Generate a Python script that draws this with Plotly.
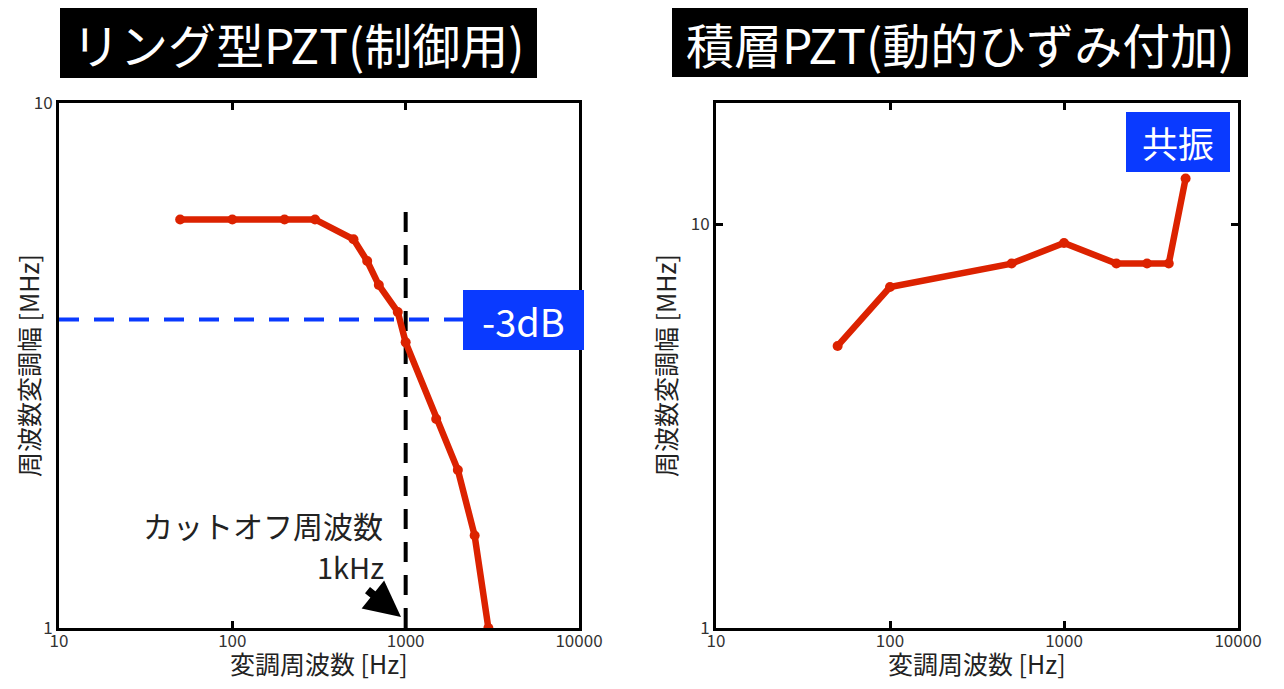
import plotly.graph_objects as go

# ---- data ----
left_freq = [50, 100, 200, 300, 500, 600, 700, 900, 1000, 1500, 2000, 2500, 3000]
left_amp = [6.0, 6.0, 6.0, 6.0, 5.5, 5.0, 4.5, 4.0, 3.5, 2.5, 2.0, 1.5, 1.0]
right_freq = [50, 100, 500, 1000, 2000, 3000, 4000, 5000]
right_amp = [5.0, 7.0, 8.0, 9.0, 8.0, 8.0, 8.0, 13.0]
cutoff_freq = [1000, 1000]
cutoff_span = [1.0, 6.5]
db3_freq = [10, 10000]
db3_level = [3.87, 3.87]
x_ticks = [10, 100, 1000, 10000]
x_ticklabels = ["10", "100", "1000", "10000"]
y_ticks = [1, 10]
y_ticklabels = ["1", "10"]

titles = ["リング型PZT(制御用)", "積層PZT(動的ひずみ付加)"]
xtitle = "変調周波数 [Hz]"
ytitle = "周波数変調幅 [MHz]"

# page has an 8px body margin; figure is sized to fit inside the viewport
OFF = 8
W, H = 1284 - 2 * OFF, 689 - 2 * OFF
def px(x):
    return (x - OFF) / W
def py(y):
    return 1 - (y - OFF) / H

RED = "#dc2200"
BLUE = "#0a3aff"
FONT = "Noto Sans CJK JP"

fig = go.Figure()

fig.add_trace(go.Scatter(x=cutoff_freq, y=cutoff_span, mode="lines",
                         line=dict(color="black", width=4, dash="20px,13px"),
                         xaxis="x", yaxis="y", showlegend=False, hoverinfo="skip"))
fig.add_trace(go.Scatter(x=db3_freq, y=db3_level, mode="lines",
                         line=dict(color=BLUE, width=4, dash="20px,15px"),
                         xaxis="x", yaxis="y", showlegend=False, hoverinfo="skip"))
fig.add_trace(go.Scatter(x=left_freq, y=left_amp, mode="lines+markers",
                         line=dict(color=RED, width=6.5),
                         marker=dict(color=RED, size=10),
                         xaxis="x", yaxis="y", showlegend=False))
fig.add_trace(go.Scatter(x=right_freq, y=right_amp, mode="lines+markers",
                         line=dict(color=RED, width=6.5),
                         marker=dict(color=RED, size=10),
                         xaxis="x2", yaxis="y2", showlegend=False))

axis_common = dict(type="log", showline=True, linewidth=3, linecolor="black",
                   mirror="ticks", ticks="inside", ticklen=7, tickwidth=3,
                   tickcolor="black", showgrid=False, zeroline=False,
                   automargin=False,
                   tickfont=dict(family=FONT, size=17, color="#333333"))

fig.update_layout(
    width=W, height=H,
    margin=dict(l=0, r=0, t=0, b=0, autoexpand=False),
    paper_bgcolor="white", plot_bgcolor="white",
    font=dict(family=FONT),
    xaxis=dict(domain=[px(59), px(579)], range=[1, 4], tickvals=x_ticks,
               ticktext=x_ticklabels, anchor="y", ticklabelstandoff=-4,
               **axis_common),
    yaxis=dict(domain=[py(628), py(103)], range=[0, 1], tickvals=y_ticks,
               ticktext=y_ticklabels, anchor="x", **axis_common),
    xaxis2=dict(domain=[px(716), px(1238)], range=[1, 4], tickvals=x_ticks,
                ticktext=x_ticklabels, anchor="y2", ticklabelstandoff=-4,
                **axis_common),
    yaxis2=dict(domain=[py(628), py(103)], range=[0, 1.30103], tickvals=y_ticks,
                ticktext=y_ticklabels, anchor="x2", **axis_common),
)

shapes = [
    dict(type="rect", xref="paper", yref="paper", x0=px(60), x1=px(537),
         y0=py(78), y1=py(8), fillcolor="black", line=dict(width=0), layer="above"),
    dict(type="rect", xref="paper", yref="paper", x0=px(672), x1=px(1248),
         y0=py(77), y1=py(8), fillcolor="black", line=dict(width=0), layer="above"),
    dict(type="rect", xref="paper", yref="paper", x0=px(463), x1=px(584),
         y0=py(350), y1=py(290), fillcolor=BLUE, line=dict(width=0), layer="above"),
    dict(type="rect", xref="paper", yref="paper", x0=px(1126), x1=px(1230),
         y0=py(172), y1=py(112), fillcolor=BLUE, line=dict(width=0), layer="above"),
]
fig.update_layout(shapes=shapes)

ann = []
ann.append(dict(text=titles[0], x=px(298), y=py(43), xref="paper", yref="paper",
                showarrow=False, font=dict(family=FONT, size=48, color="white"),
                xanchor="center", yanchor="middle"))
ann.append(dict(text=titles[1], x=px(960), y=py(43), xref="paper", yref="paper",
                showarrow=False, font=dict(family=FONT, size=48, color="white"),
                xanchor="center", yanchor="middle"))
ann.append(dict(text="-3dB", x=px(523), y=py(320), xref="paper", yref="paper",
                showarrow=False, font=dict(family=FONT, size=38, color="white"),
                xanchor="center", yanchor="middle"))
ann.append(dict(text="共振", x=px(1178), y=py(142), xref="paper", yref="paper",
                showarrow=False, font=dict(family=FONT, size=36, color="white"),
                xanchor="center", yanchor="middle"))
ann.append(dict(text="カットオフ周波数", x=px(385), y=py(525), xref="paper", yref="paper",
                showarrow=False, font=dict(family=FONT, size=30, color="#222222"),
                xanchor="right", yanchor="middle"))
ann.append(dict(text="1kHz", x=px(386), y=py(566), xref="paper", yref="paper",
                showarrow=False, font=dict(family=FONT, size=29, color="#222222"),
                xanchor="right", yanchor="middle"))
ann.append(dict(text="", x=px(401), y=py(617), xref="paper", yref="paper",
                showarrow=True, ax=-35, ay=-28, arrowhead=2, arrowsize=0.9,
                arrowwidth=8, arrowcolor="black", standoff=0))
for cx in (319, 977):
    ann.append(dict(text=xtitle, x=px(cx), y=py(663), xref="paper", yref="paper",
                    showarrow=False, font=dict(family=FONT, size=25, color="#222222"),
                    xanchor="center", yanchor="middle"))
for cx in (28, 665):
    ann.append(dict(text=ytitle, x=px(cx), y=py(366), xref="paper", yref="paper",
                    showarrow=False, textangle=-90,
                    font=dict(family=FONT, size=25, color="#222222"),
                    xanchor="center", yanchor="middle"))
fig.update_layout(annotations=ann)

fig.write_html("out.html")
